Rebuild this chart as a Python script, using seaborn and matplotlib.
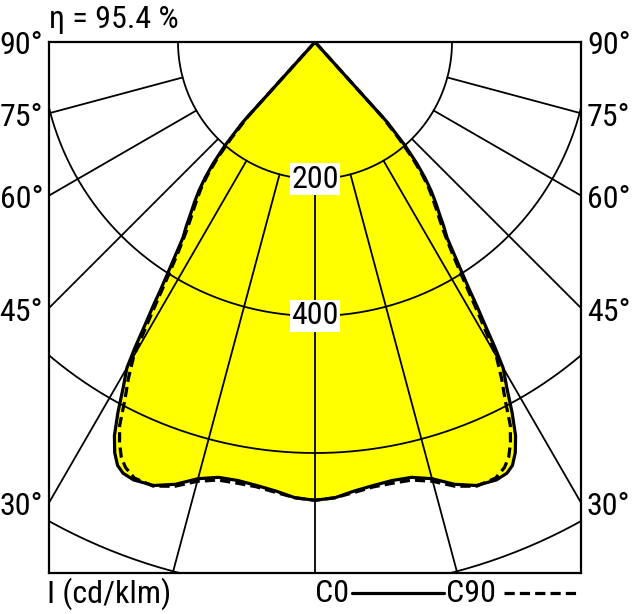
import numpy as np
import pandas as pd
import matplotlib
matplotlib.use("Agg")
import matplotlib.pyplot as plt
import seaborn as sns
from matplotlib.lines import Line2D

gamma_c0 = [0, 2.5, 5, 7.5, 10, 12.5, 15, 17.5, 20, 22.5, 24, 25, 26, 27, 28, 29, 30, 30.5,
            31, 31.5, 32, 32.5, 33, 34, 35, 36, 37, 38, 39, 40, 41, 42, 43, 60, 90]
i_c0 = [669, 666, 658, 653, 650, 651, 660, 677, 689, 692, 689, 682, 667, 645, 613, 578, 549, 518,
        482, 453, 423, 400, 380, 345, 327, 308, 292, 275, 255, 231, 201, 158, 0, 0, 0]

gamma_c90 = [0, 2.5, 5, 7.5, 10, 12.5, 15, 17.5, 20, 22.5, 24, 25, 26, 27, 28, 29, 30,
             31, 32, 33, 34, 35, 36, 37, 38, 39, 40, 41, 42, 43, 60, 90]
i_c90 = [669, 666, 660, 655, 654, 655, 664, 680, 690, 689, 680, 669, 651, 628, 591, 562, 529,
         464, 409, 368, 339, 318, 301, 285, 269, 248, 222, 187, 146, 0, 0, 0]

anillos = [200, 400, 600, 800]
anillos_etiqueta = [200, 400]
radiales = [0, 15, 30, 45, 60, 75]
angulos_texto = [90, 75, 60, 45, 30]
eta = "η = 95.4 %"

sns.set_theme(style="white")
plt.rcParams["font.family"] = ["Roboto Condensed", "DejaVu Sans"]
plt.rcParams["text.color"] = "black"
FS = 23


def curva_completa(gam, inten, nombre):
    g = np.radians(np.array(gam, dtype=float))
    r = np.array(inten, dtype=float)
    # lado izquierdo (espejo) + lado derecho
    g_full = np.concatenate([-g[::-1], g[1:]])
    r_full = np.concatenate([r[::-1], r[1:]])
    return pd.DataFrame({"x": r_full * np.sin(g_full),
                         "y": -r_full * np.cos(g_full),
                         "plano": nombre})


df = pd.concat([curva_completa(gamma_c0, i_c0, "C0"),
                curva_completa(gamma_c90, i_c90, "C90")], ignore_index=True)

W, H = 632, 614
fig = plt.figure(figsize=(W / 100, H / 100), dpi=100)
L, R, T, B = 49, 581, 42, 573
ax = fig.add_axes([L / W, 1 - B / H, (R - L) / W, (B - T) / H])
escala = 137 / 200  # px por cd/klm
xmax = (R - L) / 2 / escala
ymin = -(B - T) / escala
ax.set_xlim(-xmax, xmax)
ax.set_ylim(ymin, 0)

# relleno amarillo de C0
c0 = df[df["plano"] == "C0"]
ax.fill(c0["x"], c0["y"], color="#ffff00", zorder=1, lw=0)

# rejilla polar
t = np.linspace(-np.pi / 2, np.pi / 2, 400)
for rr in anillos:
    ax.plot(rr * np.sin(t), -rr * np.cos(t), color="black", lw=1.3, zorder=2)
for a in radiales:
    for s in ([1] if a == 0 else [-1, 1]):
        ang = np.radians(s * a)
        ax.plot([200 * np.sin(ang), 2000 * np.sin(ang)],
                [-200 * np.cos(ang), -2000 * np.cos(ang)],
                color="black", lw=1.3, zorder=2)

# curvas
sns.lineplot(data=df, x="x", y="y", style="plano", sort=False, estimator=None,
             dashes={"C0": "", "C90": (3.2, 1.6)}, color="black", lw=2.3,
             legend=False, ax=ax, zorder=3)

for v in anillos_etiqueta:
    ax.text(0, -v, str(v), ha="center", va="center", fontsize=FS, zorder=5,
            bbox=dict(facecolor="white", edgecolor="none", pad=1.0))

ax.set_xticks([])
ax.set_yticks([])
ax.set_xlabel("")
ax.set_ylabel("")
for sp in ax.spines.values():
    sp.set_visible(True)
    sp.set_color("black")
    sp.set_linewidth(1.6)

# etiquetas de angulo a ambos lados
for a in angulos_texto:
    yv = 0 if a == 90 else -xmax / np.tan(np.radians(a))
    ypx = T - yv * escala + 4
    fig.text(43 / W, 1 - ypx / H, f"{a}°", ha="right", va="center", fontsize=FS)
    fig.text(587 / W, 1 - ypx / H, f"{a}°", ha="left", va="center", fontsize=FS)

fig.text(49 / W, 1 - 19 / H, eta, ha="left", va="center", fontsize=FS)
fig.text(47 / W, 1 - 594 / H, "I (cd/klm)", ha="left", va="center", fontsize=FS)
fig.text(315 / W, 1 - 594 / H, "C0", ha="left", va="center", fontsize=FS)
fig.text(446 / W, 1 - 594 / H, "C90", ha="left", va="center", fontsize=FS)
fig.add_artist(Line2D([352 / W, 444 / W], [1 - 593 / H] * 2, color="black", lw=2.3))
fig.add_artist(Line2D([504 / W, 578 / W], [1 - 593 / H] * 2, color="black", lw=2.3,
                      dashes=(3.2, 1.6)))

fig.savefig("out.png", dpi=100, facecolor="white")
